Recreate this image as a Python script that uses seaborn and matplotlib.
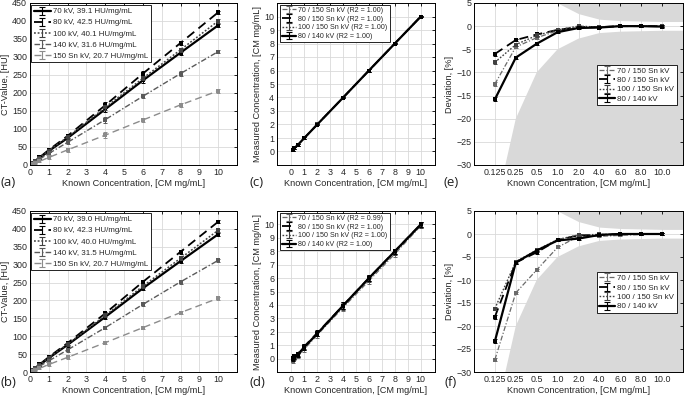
import numpy as np
import matplotlib
matplotlib.use("Agg")
import matplotlib.pyplot as plt
import seaborn as sns

# ---------------- data ----------------
conc = [0, 0.125, 0.25, 0.5, 1, 2, 4, 6, 8, 10]
kv_labels_a = ["70 kV, 39.1 HU/mg/mL", "80 kV, 42.5 HU/mg/mL", "100 kV, 40.1 HU/mg/mL",
               "140 kV, 31.6 HU/mg/mL", "150 Sn kV, 20.7 HU/mg/mL"]
kv_labels_b = ["70 kV, 39.0 HU/mg/mL", "80 kV, 42.3 HU/mg/mL", "100 kV, 40.0 HU/mg/mL",
               "140 kV, 31.5 HU/mg/mL", "150 Sn kV, 20.7 HU/mg/mL"]
hu_a_70 = [1, 5, 10, 19, 39, 75, 155, 235, 312, 388]
hu_a_80 = [1, 6, 11, 21, 42, 81, 166, 254, 339, 424]
hu_a_100 = [1, 5, 10, 20, 40, 78, 160, 241, 320, 400]
hu_a_140 = [1, 4, 8, 16, 32, 63, 126, 191, 254, 315]
hu_a_150 = [0, 3, 5, 10, 21, 42, 83, 125, 167, 206]
err_a = [2, 2, 2, 3, 4, 6, 8, 6, 6, 5]
hu_b_70 = [1, 5, 10, 19, 39, 76, 154, 234, 310, 385]
hu_b_80 = [1, 6, 11, 21, 42, 81, 164, 252, 336, 420]
hu_b_100 = [1, 5, 10, 20, 40, 78, 158, 240, 318, 396]
hu_b_140 = [1, 4, 8, 16, 31, 62, 124, 189, 252, 312]
hu_b_150 = [0, 3, 5, 10, 21, 41, 82, 124, 166, 206]
err_b = [2, 2, 2, 3, 4, 5, 5, 5, 5, 4]

known = [0.125, 0.25, 0.5, 1, 2, 4, 6, 8, 10]
dual_labels_c = ["70 / 150 Sn kV (R2 = 1.00)", "80 / 150 Sn kV (R2 = 1.00)",
                 "100 / 150 Sn kV (R2 = 1.00)", "80 / 140 kV (R2 = 1.00)"]
dual_labels_d = ["70 / 150 Sn kV (R2 = 0.99)", "80 / 150 Sn kV (R2 = 1.00)",
                 "100 / 150 Sn kV (R2 = 1.00)", "80 / 140 kV (R2 = 1.00)"]
meas_c_70 = [0.109, 0.239, 0.488, 0.99, 1.994, 3.988, 6.0, 8.0, 10.0]
meas_c_80 = [0.118, 0.243, 0.491, 0.992, 1.996, 3.992, 6.0, 8.0, 10.0]
meas_c_100 = [0.115, 0.240, 0.490, 0.992, 2.0, 3.992, 6.0, 8.0, 10.0]
meas_c_80140 = [0.105, 0.233, 0.481, 0.987, 1.992, 3.988, 6.0, 8.0, 9.99]
err_c = [0.08, 0.08, 0.08, 0.08, 0.06, 0.06, 0.08, 0.06, 0.06]
meas_d_70 = [-0.15, 0.05, 0.2, 0.7, 1.75, 3.8, 5.8, 7.8, 9.9]
meas_d_80 = [0.05, 0.2, 0.35, 0.9, 1.9, 3.95, 6.0, 8.0, 10.0]
meas_d_100 = [0.0, 0.15, 0.3, 0.85, 1.85, 3.9, 5.95, 7.95, 9.95]
meas_d_80140 = [-0.05, 0.15, 0.3, 0.85, 1.85, 3.95, 6.0, 8.0, 10.0]
err_d = [0.15, 0.15, 0.15, 0.2, 0.2, 0.25, 0.25, 0.2, 0.2]

cat_labels = ["0.125", "0.25", "0.5", "1.0", "2.0", "4.0", "6.0", "8.0", "10.0"]
dev_labels = ["70 / 150 Sn kV", "80 / 150 Sn kV", "100 / 150 Sn kV", "80 / 140 kV"]
dev_e_70 = [-12.5, -4.5, -2.5, -1.0, -0.3, -0.3, 0.0, 0.0, 0.0]
dev_e_80 = [-6.0, -3.0, -1.8, -0.8, -0.2, -0.2, 0.0, 0.0, 0.0]
dev_e_100 = [-7.8, -4.0, -2.0, -0.8, 0.0, -0.2, 0.0, 0.0, 0.0]
dev_e_80140 = [-15.8, -6.8, -3.8, -1.3, -0.4, -0.3, 0.0, 0.0, -0.1]
dev_f_70 = [-27.3, -12.8, -7.8, -2.9, -0.5, -0.5, -0.3, -0.1, 0.0]
dev_f_80 = [-18.0, -6.2, -4.0, -1.3, -0.3, -0.2, 0.0, 0.0, 0.0]
dev_f_100 = [-16.2, -6.0, -3.5, -1.2, -0.2, -0.1, 0.0, 0.0, 0.0]
dev_f_80140 = [-23.3, -6.2, -3.6, -1.4, -1.0, -0.2, 0.0, 0.0, 0.0]
err_dev = [0.4, 0.3, 0.3, 0.2, 0.2, 0.2, 0.2, 0.2, 0.2]

# tolerance band (percent) at category edges 0..10
band_pos = [0, 1, 2, 3, 4, 5, 6, 7, 8, 9, 10]
band_tol = [80, 40, 20, 10, 5, 2.7, 1.5, 1.2, 1.1, 1.0, 1.0]

# ---------------- style ----------------
sns.set_theme(style="white")
plt.rcParams['font.family'] = ['Liberation Sans', 'DejaVu Sans']
plt.rcParams['axes.edgecolor'] = 'black'
plt.rcParams['axes.linewidth'] = 0.7

W, H = 684, 399
fig = plt.figure(figsize=(W / 100, H / 100), dpi=100)

def mk_ax(l, r, t, b):
    return fig.add_axes([l / W, 1 - b / H, (r - l) / W, (b - t) / H])

cols = [(30, 237), (277, 435), (474, 683)]
rows = [(3, 165), (211, 372)]

styles5 = [dict(color='black', ls='-', lw=1.6),
           dict(color='black', ls=(0, (5, 3)), lw=1.3),
           dict(color='#404040', ls=(0, (1.2, 1.2)), lw=1.1),
           dict(color='#5a5a5a', ls=(0, (4, 1.5, 1, 1.5)), lw=1.0),
           dict(color='#8c8c8c', ls=(0, (5, 3)), lw=1.0)]
styles4 = [dict(color='#6a6a6a', ls=(0, (4, 1.5, 1, 1.5)), lw=0.9),
           dict(color='black', ls=(0, (5, 3)), lw=1.3),
           dict(color='#404040', ls=(0, (1.2, 1.2)), lw=1.0),
           dict(color='black', ls='-', lw=1.6)]

TF = 6.4
LF = 6.6

def base_style(ax):
    ax.tick_params(direction='in', length=2.5, width=0.6, labelsize=TF, pad=2,
                   top=True, right=True, colors='black')
    ax.tick_params(axis='both', labelcolor='#262626')
    ax.grid(True, color='#d9d9d9', linewidth=0.6)
    ax.set_axisbelow(True)
    for s in ax.spines.values():
        s.set_visible(True)
        s.set_color('black')
        s.set_linewidth(0.7)

def plot_series(ax, x, y, e, st, ms=2.5):
    sns.lineplot(x=x, y=y, ax=ax, color=st['color'], linestyle=st['ls'],
                 linewidth=st['lw'], marker='s', markersize=ms,
                 markeredgewidth=0, errorbar=None, legend=False, sort=False)
    ax.errorbar(x, y, yerr=e, fmt='none', ecolor=st['color'], elinewidth=0.7,
                capsize=1.5, capthick=0.7)

def legend_handles(ax, labels, styles):
    hs = []
    for lab, st in zip(labels, styles):
        h = ax.errorbar([np.nan], [np.nan], yerr=[1.0], color=st['color'],
                        linestyle=st['ls'], lw=st['lw'], capsize=2, elinewidth=0.8,
                        capthick=0.8, label=lab)
        hs.append(h)
    return hs

def make_legend(ax, hs, labels, anchor, fs=6.3, hl=2.2, ls=0.2):
    leg = ax.legend(hs, labels, loc='upper left', bbox_to_anchor=anchor,
                    borderaxespad=0, fontsize=fs, frameon=True, fancybox=False,
                    edgecolor='black', framealpha=1, handlelength=hl,
                    handletextpad=0.25, labelspacing=ls, borderpad=0.3)
    leg.get_frame().set_linewidth(0.6)
    return leg

# ---------- panels a, b ----------
for r, (hus, errs, labs) in enumerate([
        ([hu_a_70, hu_a_80, hu_a_100, hu_a_140, hu_a_150], err_a, kv_labels_a),
        ([hu_b_70, hu_b_80, hu_b_100, hu_b_140, hu_b_150], err_b, kv_labels_b)]):
    ax = mk_ax(cols[0][0], cols[0][1], *rows[r])
    base_style(ax)
    for y, st in zip(hus, styles5):
        plot_series(ax, conc, y, errs, st)
    ax.set_xlim(0, 11)
    ax.set_ylim(0, 450)
    ax.set_xticks(range(0, 11))
    ax.set_yticks(range(0, 451, 50))
    ax.set_xlabel("Known Concentration, [CM mg/mL]", fontsize=LF, labelpad=1.5)
    ax.set_ylabel("CT-Value, [HU]", fontsize=LF, labelpad=1.5)
    hs = legend_handles(ax, labs, styles5)
    make_legend(ax, hs, labs, (0.006, 0.985), fs=5.7, hl=2.2, ls=0.45)

# ---------- panels c, d ----------
for r, (ms_, errs, labs) in enumerate([
        ([meas_c_70, meas_c_80, meas_c_100, meas_c_80140], err_c, dual_labels_c),
        ([meas_d_70, meas_d_80, meas_d_100, meas_d_80140], err_d, dual_labels_d)]):
    ax = mk_ax(cols[1][0], cols[1][1], *rows[r])
    base_style(ax)
    for y, st in zip(ms_, styles4):
        plot_series(ax, known, y, errs, st, ms=2.3)
    ax.set_xlim(-1.1, 11.1)
    ax.set_ylim(-1, 11)
    ax.set_xticks(range(0, 11))
    ax.set_yticks(range(0, 11))
    ax.set_xlabel("Known Concentration, [CM mg/mL]", fontsize=LF, labelpad=1.5)
    ax.set_ylabel("Measured Concentration, [CM mg/mL]", fontsize=LF, labelpad=1.5)
    hs = legend_handles(ax, labs, styles4)
    make_legend(ax, hs, labs, (0.02, 0.99), fs=5.1, hl=2.0, ls=0.25)

# ---------- panels e, f ----------
pos = list(range(1, 10))
for r, devs in enumerate([[dev_e_70, dev_e_80, dev_e_100, dev_e_80140],
                          [dev_f_70, dev_f_80, dev_f_100, dev_f_80140]]):
    ax = mk_ax(cols[2][0], cols[2][1], *rows[r])
    base_style(ax)
    tol = np.array(band_tol)
    ax.fill_between(band_pos, tol, 50, color='#d9d9d9', linewidth=0, zorder=0.5)
    ax.fill_between(band_pos, -tol, -100, color='#d9d9d9', linewidth=0, zorder=0.5)
    for y, st in zip(devs, styles4):
        plot_series(ax, pos, y, err_dev, st, ms=2.3)
    ax.set_xlim(0, 10)
    ax.set_ylim(-30, 5)
    ax.set_xticks(pos)
    ax.set_xticklabels(cat_labels)
    ax.set_yticks(range(-30, 6, 5))
    ax.set_xlabel("Known Concentration, [CM mg/mL]", fontsize=LF, labelpad=1.5)
    ax.set_ylabel("Deviation, [%]", fontsize=LF, labelpad=1.5)
    hs = legend_handles(ax, dev_labels, styles4)
    make_legend(ax, hs, dev_labels, (0.588, 0.62), fs=5.8, hl=2.0, ls=0.22)

# panel letters
for lab, x, y in [("(a)", 8, 183), ("(c)", 257, 182), ("(e)", 451, 182),
                  ("(b)", 8, 383), ("(d)", 257, 383), ("(f)", 451, 383)]:
    fig.text(x / W, 1 - y / H, lab, fontsize=9.5, ha='center', va='center',
             family=['Open Sans', 'DejaVu Sans'], color='#222222')

fig.savefig("out.png", dpi=100)
